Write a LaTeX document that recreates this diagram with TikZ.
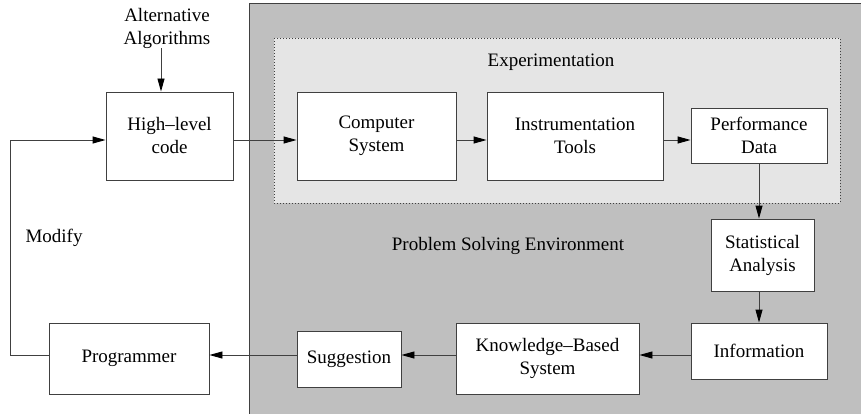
\documentclass[tikz,border=0pt]{standalone}
\usepackage{fontspec}
\setmainfont{Liberation Serif}
\usetikzlibrary{arrows.meta}
\definecolor{envgray}{gray}{0.75}
\definecolor{expgray}{gray}{0.9}
\definecolor{linecol}{gray}{0.25}
\tikzset{
  box/.style={draw=linecol, line width=0.9pt, fill=white, align=center, inner sep=0pt,
    font=\fontsize{19}{23}\selectfont},
  lbl/.style={align=center, inner sep=0pt, font=\fontsize{19}{23}\selectfont},
  arr/.style={draw=linecol, line width=0.9pt, -{Triangle[length=13pt,width=7pt,color=black,fill=black]}},
  ln/.style={draw=linecol, line width=0.9pt},
}
\begin{document}
\begin{tikzpicture}[x=1pt,y=-1pt]
\useasboundingbox (0,0) rectangle (861,414);
% environment box
\fill[envgray] (249,3.5) rectangle (861,414);
\draw[ln] (249,414) -- (249,3.5) -- (861,3.5);
% experimentation box
\draw[linecol, line width=0.7pt, dash pattern=on 0.8pt off 2.2pt, fill=expgray] (274,38) rectangle (840,203);
\node[lbl] (exp) at (551,62) {Experimentation};
\node[lbl] (pse) at (508,246) {Problem Solving Environment};

% nodes
\node[box, minimum width=127pt, minimum height=88pt] (hl) at (169.5,136) {High--level\\code};
\node[box, minimum width=159pt, minimum height=88pt] (cs) at (376.5,136) {Computer\\System};
\node[box, minimum width=176pt, minimum height=88pt] (it) at (575,136) {Instrumentation\\Tools};
\node[box, minimum width=136pt, minimum height=55pt] (pd) at (759,135.5) {Performance\\Data};
\node[box, minimum width=103pt, minimum height=72pt] (sa) at (762.5,255) {Statistical\\Analysis};
\node[box, minimum width=136pt, minimum height=56pt] (info) at (759,351) {Information};
\node[box, minimum width=183pt, minimum height=71pt] (kb) at (547.5,358.5) {Knowledge--Based\\System};
\node[box, minimum width=104pt, minimum height=56pt] (sug) at (349,359) {Suggestion};
\node[box, minimum width=160pt, minimum height=71pt] (prog) at (129,358.5) {Programmer};
\node[lbl] (alt) at (167,28) {Alternative\\Algorithms};
\node[lbl] (mod) at (54,238) {Modify};

% helper coordinates
\coordinate (rowT) at (0,140);
\coordinate (rowB) at (0,355);
\coordinate (colX) at (759,0);
\coordinate (altX) at (161,0);
\coordinate (loopX) at (10,0);

% connectors
\draw[arr] (alt.south -| altX) -- (hl.north -| altX);
\draw[arr] (hl.east |- rowT) -- (cs.west |- rowT);
\draw[arr] (cs.east |- rowT) -- (it.west |- rowT);
\draw[arr] (it.east |- rowT) -- (pd.west |- rowT);
\draw[arr] (pd.south -| colX) -- (sa.north -| colX);
\draw[arr] (sa.south -| colX) -- (info.north -| colX);
\draw[arr] (info.west |- rowB) -- (kb.east |- rowB);
\draw[arr] (kb.west |- rowB) -- (sug.east |- rowB);
\draw[arr] (sug.west |- rowB) -- (prog.east |- rowB);
\draw[arr] (prog.west |- rowB) -- (loopX |- rowB) -- (loopX |- rowT) -- (hl.west |- rowT);
\end{tikzpicture}
\end{document}
